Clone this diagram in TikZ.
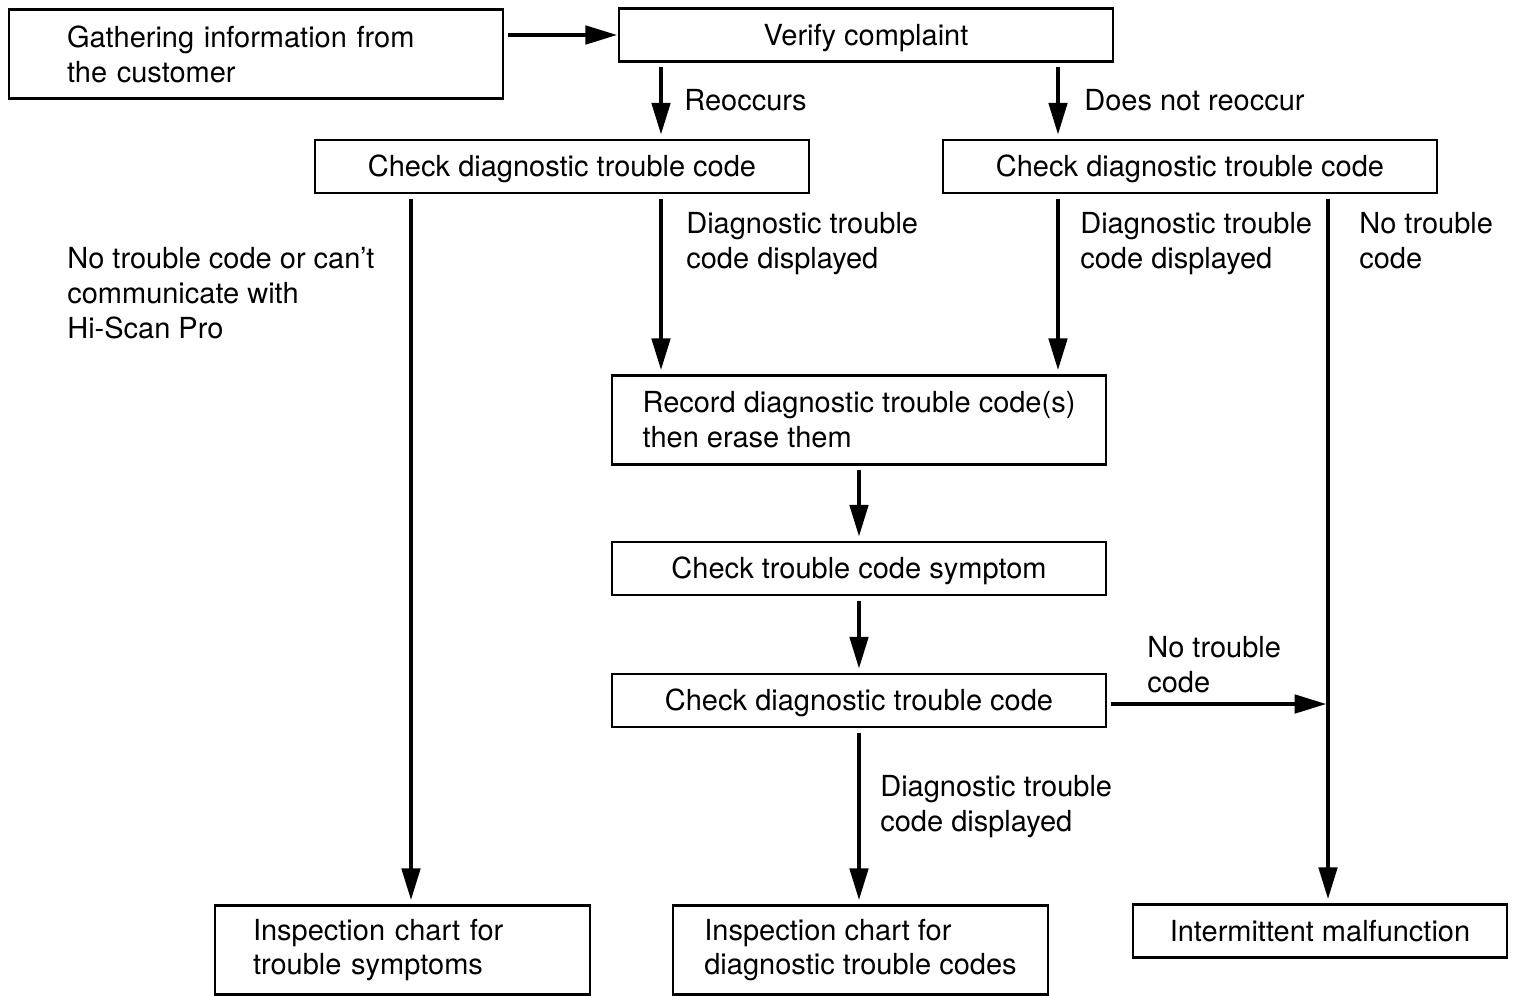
\documentclass[tikz,border=0pt]{standalone}
\usepackage{fontspec}
\setmainfont{TeX Gyre Heros}
\usetikzlibrary{arrows.meta,positioning}

\newcommand{\chartfont}{\fontsize{16.5}{19.8}\selectfont}
\tikzset{
  box/.style={draw,rectangle,line width=1.3pt,inner ysep=0pt,
    minimum width=9.88cm,minimum height=1.06cm,font=\chartfont},
  single/.style={box,text height=11.8pt,text depth=0pt},
  tall/.style={box,minimum height=1.78cm},
  lbl/.style={anchor=north west,inner sep=0pt,align=left,font=\chartfont},
  arr/.style={-{Triangle[length=18pt,width=10.5pt]},line width=2pt,
    shorten <=2.5pt,shorten >=2.5pt},
}

\begin{document}
\begin{tikzpicture}[x=0.02cm,y=-0.02cm]
   \useasboundingbox (0,0) rectangle (1515,995);
   % boxes
   \node[tall,align=left,text width=7.56cm,inner xsep=1.16cm] (gather) at (256,54) {Gathering information from\\the customer};
   \node[single] (verify)  at (866,35)    {Verify complaint};
   \node[single] (checka)  at (562,166.5) {Check diagnostic trouble code};
   \node[single] (checkb)  at (1190,166.5) {Check diagnostic trouble code};
   \node[tall,align=left] (record) at (859,420) {Record diagnostic trouble code(s)\\then erase them};
   \node[single] (symptom) at (859,568.5) {Check trouble code symptom};
   \node[single] (checkc)  at (859,700.5) {Check diagnostic trouble code};
   \node[tall,minimum width=7.5cm,align=left,text width=5.98cm,inner xsep=0.76cm] (inspa) at (402.5,950) {Inspection chart for\\trouble symptoms};
   \node[tall,minimum width=7.5cm,align=left] (inspb) at (860.5,950) {Inspection chart for\\diagnostic trouble codes};
   \node[single,minimum width=7.48cm] (interm) at (1320,931) {Intermittent malfunction};
   % labels
   \node[lbl] (lreocc) at (684,89)  {Reoccurs};
   \node[lbl] (lnot)   at (1084,89) {Does not reoccur};
   \node[lbl] (ldispa) at (686,212)  {Diagnostic trouble\\code displayed};
   \node[lbl] (lnone)  at (67,247)   {No trouble code or can't\\communicate with\\Hi-Scan Pro};
   \node[lbl] (ldispb) at (1080,212) {Diagnostic trouble\\code displayed};
   \node[lbl] (lnob)   at (1359,212) {No trouble\\code};
   \node[lbl] (lnoc)   at (1147,636) {No trouble\\code};
   \node[lbl] (ldispc) at (880,775)  {Diagnostic trouble\\code displayed};
   % arrow columns
   \coordinate (colA) at (411,0);
   \coordinate (colB) at (661,0);
   \coordinate (colC) at (1058,0);
   \coordinate (colD) at (1328,0);
   \coordinate (rowE) at (0,704);
   % arrows
   \draw[arr,shorten >=0.5pt] (gather.east |- verify) -- (verify.west);
   \draw[arr] (verify.south -| colB) -- (checka.north -| colB);
   \draw[arr] (verify.south -| colC) -- (checkb.north -| colC);
   \draw[arr] (checka.south -| colB) -- (record.north -| colB);
   \draw[arr] (checka.south -| colA) -- (inspa.north -| colA);
   \draw[arr] (checkb.south -| colC) -- (record.north -| colC);
   \draw[arr] (checkb.south -| colD) -- (interm.north -| colD);
   \draw[arr] (record) -- (symptom);
   \draw[arr] (symptom) -- (checkc);
   \draw[arr] (checkc.south) -- (checkc.south |- inspb.north);
   \draw[arr,shorten >=1pt] (checkc.east |- rowE) -- (colD |- rowE);
\end{tikzpicture}
\end{document}
